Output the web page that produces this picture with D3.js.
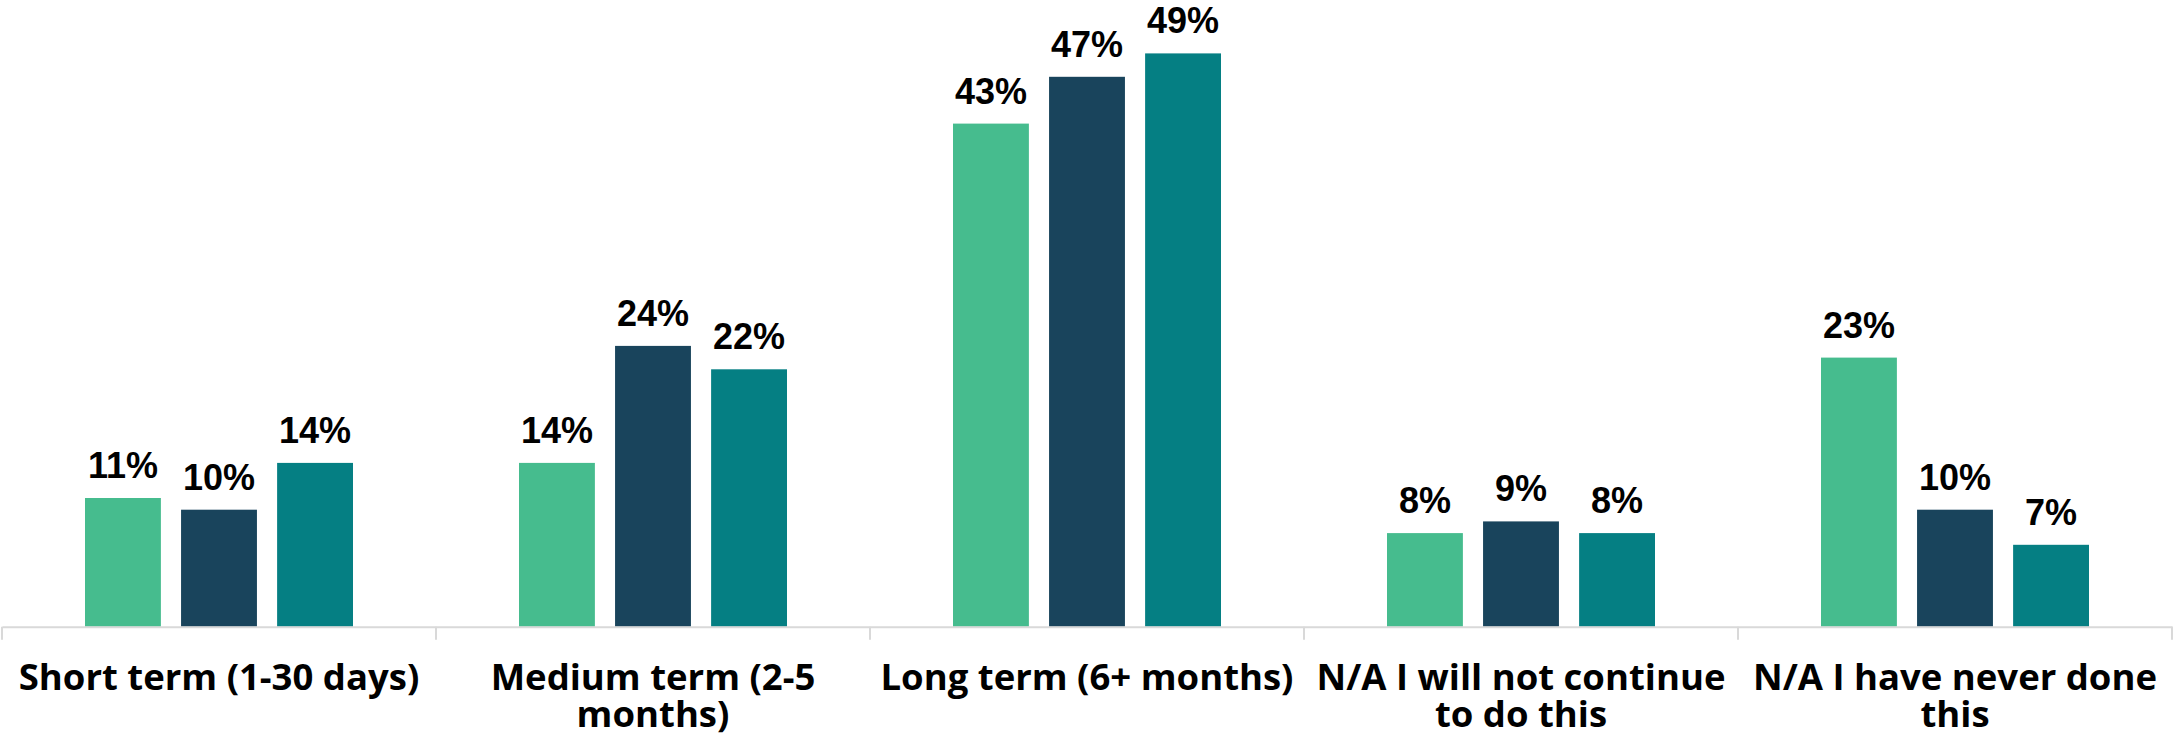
<!DOCTYPE html>
<html>
<head>
<meta charset="utf-8">
<script src="https://cdn.jsdelivr.net/npm/d3@7"></script>
<style>
  body { margin: 0; background: #fff; }
  .val { font-family: "Liberation Sans", Arial, sans-serif; font-weight: bold; font-size: 36px; fill: #000; }
  .cat { font-family: "Century Gothic", "Open Sans", sans-serif; font-weight: bold; font-size: 36.5px; fill: #000; }
</style>
</head>
<body>
<div id="chart"></div>
<script>
// chart values
var categories = ["Short term (1-30 days)", "Medium term (2-5 months)", "Long term (6+ months)",
                  "N/A I will not continue to do this", "N/A I have never done this"];
var seriesNames = ["s1", "s2", "s3"];
var s1 = [0.11, 0.14, 0.43, 0.08, 0.23];
var s2 = [0.10, 0.24, 0.47, 0.09, 0.10];
var s3 = [0.14, 0.22, 0.49, 0.08, 0.07];
var colors = ["#46bc8e", "#19445c", "#057f83"];

var width = 2175,
    height = 740;
var axisY = 626.7;

var rows = categories.map(function(c, i) {
    return { cat: c, vals: [s1[i], s2[i], s3[i]] };
});

var svg = d3.select("#chart")
    .append("svg")
    .attr("width", width)
    .attr("height", height);

// scales
var x0 = d3.scaleBand()
    .domain(categories)
    .range([2, 2172])
    .padding(0);

var x1 = d3.scaleBand()
    .domain(seriesNames)
    .range([83, x0.bandwidth() - 83])
    .paddingInner(0.21)
    .paddingOuter(0);

var y = d3.scaleLinear()
    .domain([0, 0.5])
    .range([axisY, axisY - 585]);

// bars
var groups = svg.selectAll("g.grp")
    .data(rows)
    .enter()
    .append("g")
    .attr("class", "grp")
    .attr("transform", function(d) { return "translate(" + x0(d.cat) + ",0)"; });

groups.selectAll("rect")
    .data(function(d) { return d.vals; })
    .enter()
    .append("rect")
    .attr("x", function(d, i) { return x1(seriesNames[i]); })
    .attr("y", function(d) { return y(d); })
    .attr("width", x1.bandwidth())
    .attr("height", function(d) { return axisY - y(d); })
    .attr("fill", function(d, i) { return colors[i]; });

groups.selectAll("text.val")
    .data(function(d) { return d.vals; })
    .enter()
    .append("text")
    .attr("class", "val")
    .attr("text-anchor", "middle")
    .attr("x", function(d, i) { return x1(seriesNames[i]) + x1.bandwidth() / 2; })
    .attr("y", function(d) { return y(d) - 20; })
    .text(function(d) { return Math.round(d * 100) + "%"; });

// x axis: line with ticks between categories
var xAxis = d3.axisBottom(x0).tickSize(0).tickFormat("");
var ax = svg.append("g")
    .attr("transform", "translate(0," + axisY + ")")
    .call(xAxis);
ax.select(".domain").attr("stroke", "#d9d9d9").attr("stroke-width", 2);

var bounds = categories.map(function(c) { return x0(c); }).concat([x0.range()[1]]);
ax.selectAll("line.sep")
    .data(bounds)
    .enter()
    .append("line")
    .attr("class", "sep")
    .attr("x1", function(d) { return d; })
    .attr("x2", function(d) { return d; })
    .attr("y1", 0)
    .attr("y2", 13)
    .attr("stroke", "#d9d9d9")
    .attr("stroke-width", 2);

// category labels, wrapped to band width
var labels = svg.selectAll("text.cat")
    .data(categories)
    .enter()
    .append("text")
    .attr("class", "cat")
    .attr("text-anchor", "middle")
    .attr("x", function(d) { return x0(d) + x0.bandwidth() / 2; })
    .attr("y", 690);

labels.each(function(d) {
    var t = d3.select(this),
        words = d.split(" "),
        line = [],
        lineNo = 0,
        cx = +t.attr("x"),
        ts = t.append("tspan").attr("x", cx).attr("y", 690);
    words.forEach(function(w) {
        line.push(w);
        ts.text(line.join(" "));
        if (ts.node().getComputedTextLength() > 425 && line.length > 1) {
            line.pop();
            ts.text(line.join(" "));
            line = [w];
            lineNo++;
            ts = t.append("tspan").attr("x", cx).attr("y", 690 + lineNo * 37).text(w);
        }
    });
});
</script>
</body>
</html>
